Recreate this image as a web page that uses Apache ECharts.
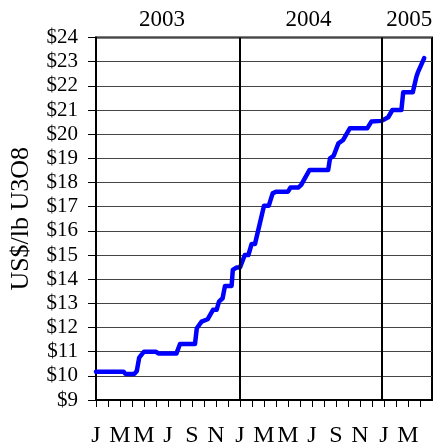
<!DOCTYPE html>
<html>
<head>
<meta charset="utf-8">
<script src="https://cdn.jsdelivr.net/npm/echarts@6/dist/echarts.min.js"></script>
<style>
	html, body { margin: 0; padding: 0; background: #fff; }
	#chart { width: 440px; height: 444px; }
</style>
</head>
<body>
<div id="chart"></div>
<script>
	/* spot price, x = months since Jan 2003 */
	var priceData = [
		[0, 10.17], [2.3, 10.17], [2.45, 10.08], [3.2, 10.08], [3.4, 10.2], [3.6, 10.75],
		[4.0, 11.0], [5.0, 11.0], [5.2, 10.92], [6.7, 10.92], [7.0, 11.32], [8.25, 11.32],
		[8.4, 11.97], [8.8, 12.24], [9.3, 12.34], [9.75, 12.73], [10.05, 12.73], [10.25, 13.07],
		[10.55, 13.21], [10.75, 13.72], [11.3, 13.72], [11.4, 14.38], [11.7, 14.48], [12.0, 14.48],
		[12.4, 15.0], [12.7, 15.0], [12.97, 15.46], [13.25, 15.46], [14.0, 17.04], [14.4, 17.04],
		[14.72, 17.55], [15.0, 17.62], [16.0, 17.62], [16.2, 17.79], [16.85, 17.79], [17.1, 17.9],
		[17.4, 18.17], [17.8, 18.52], [19.35, 18.52], [19.5, 19.0], [19.8, 19.1], [20.2, 19.62],
		[20.6, 19.76], [21.15, 20.24], [22.6, 20.24], [22.95, 20.52], [23.8, 20.55], [24.35, 20.7],
		[24.7, 21.0], [25.45, 21.0], [25.6, 21.73], [26.4, 21.73], [26.7, 22.38], [26.85, 22.59],
		[27.35, 23.15]
	];
	var monthLetters = ['J', 'F', 'M', 'A', 'M', 'J', 'J', 'A', 'S', 'O', 'N', 'D'];
	var yearLabels = ['2003', '2004', '2005'];
	var yearLabelPos = [5.5, 17.7, 26.1];
	var yearLines = [12, 23.8];

	var font = 'Liberation Serif';
	var monthTicks = [];
	var monthLabelPos = [];
	for (var m = 0; m < 28; m++) {
		monthTicks.push(m);
		if (m % 2 === 0) monthLabelPos.push(m);
	}

	var option = {
		backgroundColor: '#fff',
		animation: false,
		grid: {
			left: 96,
			right: 8,
			top: 37.5,
			bottom: 44,
			outerBoundsMode: 'none',
			show: true,
			borderColor: '#000',
			borderWidth: 2
		},
		xAxis: [{
			type: 'value',
			min: 0,
			max: 28,
			interval: 1,
			axisLine: { lineStyle: { color: '#000', width: 2 } },
			axisTick: { length: 7, customValues: monthTicks, lineStyle: { color: '#000', width: 1 } },
			splitLine: { show: false },
			axisLabel: {
				customValues: monthLabelPos,
				margin: 24,
				fontFamily: font,
				fontSize: 24,
				color: '#000',
				formatter: function(v) {
					return monthLetters[Math.round(v) % 12];
				}
			}
		}, {
			type: 'value',
			position: 'top',
			min: 0,
			max: 28,
			axisLine: { show: false },
			axisTick: { show: false },
			splitLine: { show: false },
			axisLabel: {
				customValues: yearLabelPos,
				margin: 6,
				fontFamily: font,
				fontSize: 23,
				color: '#000',
				formatter: function(v) {
					return yearLabels[yearLabelPos.indexOf(v)];
				}
			}
		}],
		yAxis: {
			type: 'value',
			min: 9,
			max: 24,
			interval: 1,
			name: 'US$/lb U3O8',
			nameLocation: 'middle',
			nameGap: 62,
			nameTextStyle: { fontFamily: font, fontSize: 26, color: '#000' },
			axisLine: { show: true, lineStyle: { color: '#000', width: 2 } },
			axisTick: { show: true, length: 8, lineStyle: { color: '#000', width: 1 } },
			splitLine: { lineStyle: { color: '#444', width: 1 } },
			axisLabel: {
				margin: 18,
				fontFamily: font,
				fontSize: 21,
				color: '#000',
				formatter: function(v) { return '$' + v; }
			}
		},
		series: [{
			type: 'line',
			data: priceData,
			showSymbol: false,
			lineStyle: { color: '#0000ff', width: 4.5, cap: 'round', join: 'round' },
			markLine: {
				silent: true,
				symbol: 'none',
				label: { show: false },
				lineStyle: { color: '#000', width: 2, type: 'solid' },
				data: yearLines.map(function(x) { return { xAxis: x }; })
			}
		}]
	};

	var chart = echarts.init(document.getElementById('chart'));
	chart.setOption(option);
</script>
</body>
</html>
